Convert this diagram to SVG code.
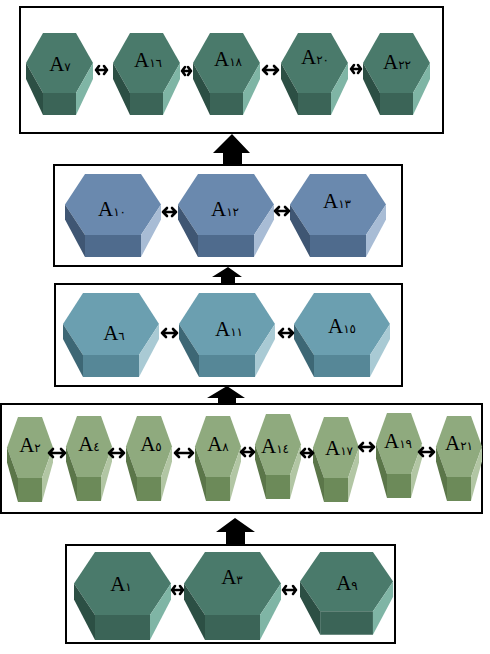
<svg xmlns="http://www.w3.org/2000/svg" xmlns:xlink="http://www.w3.org/1999/xlink" width="490" height="654" viewBox="0 0 490 654">
<style>
.box{fill:none;stroke:#000;stroke-width:2}
.lbl{font-family:"Liberation Serif","DejaVu Serif",serif;font-size:21px;fill:#000;text-anchor:middle}
.dg{font-family:"DejaVu Sans",sans-serif;font-size:12px}
.conn{fill:none;stroke:#000;stroke-width:2.6;stroke-linecap:round;stroke-linejoin:round}
.big{fill:#000}
</style>
<defs>
<g id="hexA">
<polygon points="17,0 50,0 67,30 50,60 17,60 0,30" fill="#4a7a6b"/>
<polygon points="0,30 17,60 17,82 0,46" fill="#2c4f44"/>
<polygon points="17,60 50,60 50,82 17,82" fill="#3b6457"/>
<polygon points="50,60 67,30 67,46 50,82" fill="#7fb5a5"/>
</g>
<g id="hexE">
<polygon points="21,0 76,0 97,31.5 76,63 21,63 0,31.5" fill="#4a7a6b"/>
<polygon points="0,31.5 21,63 21,88 0,47.5" fill="#2c4f44"/>
<polygon points="21,63 76,63 76,88 21,88" fill="#3b6457"/>
<polygon points="76,63 97,31.5 97,47.5 76,88" fill="#7fb5a5"/>
</g>
<g id="hexB">
<polygon points="20,0 76,0 96,30.5 76,61 20,61 0,30.5" fill="#6a89ae"/>
<polygon points="0,30.5 20,61 20,83 0,45.5" fill="#3f5673"/>
<polygon points="20,61 76,61 76,83 20,83" fill="#4f6b8d"/>
<polygon points="76,61 96,30.5 96,45.5 76,83" fill="#a8bcd5"/>
</g>
<g id="hexC">
<polygon points="20,0 76,0 96,31 76,62 20,62 0,31" fill="#6b9fb0"/>
<polygon points="0,31 20,62 20,84 0,46" fill="#3d6775"/>
<polygon points="20,62 76,62 76,84 20,84" fill="#568797"/>
<polygon points="76,62 96,31 96,46 76,84" fill="#a9cad4"/>
</g>
<g id="hexD">
<polygon points="11,0 35,0 46,30.5 35,61 11,61 0,30.5" fill="#8faa7e"/>
<polygon points="0,30.5 11,61 11,85 0,45.5" fill="#5b7649"/>
<polygon points="11,61 35,61 35,85 11,85" fill="#6c8a59"/>
<polygon points="35,61 46,30.5 46,45.5 35,85" fill="#b2c6a4"/>
</g>
</defs>
<rect width="490" height="654" fill="#fff"/>
<g id="boxes">
<rect class="box" x="20" y="7" width="423" height="126"/>
<rect class="box" x="54" y="165" width="348" height="101"/>
<rect class="box" x="55" y="284" width="347" height="102"/>
<rect class="box" x="1" y="404" width="481" height="109"/>
<rect class="box" x="66" y="545" width="329" height="98"/>
</g>
<g id="n-A7"><use xlink:href="#hexA" x="26" y="33"/><text class="lbl" x="60" y="71">A<tspan class="dg">٧</tspan></text></g>
<g id="n-A16"><use xlink:href="#hexA" x="113" y="33"/><text class="lbl" x="148" y="67">A<tspan class="dg">١٦</tspan></text></g>
<g id="n-A18"><use xlink:href="#hexA" x="193" y="33"/><text class="lbl" x="228" y="66">A<tspan class="dg">١٨</tspan></text></g>
<g id="n-A20"><use xlink:href="#hexA" x="281" y="33"/><text class="lbl" x="315" y="64">A<tspan class="dg">٢٠</tspan></text></g>
<g id="n-A22"><use xlink:href="#hexA" x="363" y="33"/><text class="lbl" x="397" y="69">A<tspan class="dg">٢٢</tspan></text></g>
<g id="n-A10"><use xlink:href="#hexB" x="65" y="174"/><text class="lbl" x="112" y="216">A<tspan class="dg">١٠</tspan></text></g>
<g id="n-A12"><use xlink:href="#hexB" x="178" y="174"/><text class="lbl" x="225" y="216">A<tspan class="dg">١٢</tspan></text></g>
<g id="n-A13"><use xlink:href="#hexB" x="290" y="174"/><text class="lbl" x="337" y="208">A<tspan class="dg">١٣</tspan></text></g>
<g id="n-A6"><use xlink:href="#hexC" x="63" y="293"/><text class="lbl" x="114" y="340">A<tspan class="dg">٦</tspan></text></g>
<g id="n-A11"><use xlink:href="#hexC" x="179" y="293"/><text class="lbl" x="229" y="336">A<tspan class="dg">١١</tspan></text></g>
<g id="n-A15"><use xlink:href="#hexC" x="294" y="293"/><text class="lbl" x="342" y="333">A<tspan class="dg">١٥</tspan></text></g>
<g id="n-A2"><use xlink:href="#hexD" x="7" y="417"/><text class="lbl" x="30" y="452">A<tspan class="dg">٢</tspan></text></g>
<g id="n-A4"><use xlink:href="#hexD" x="66" y="416"/><text class="lbl" x="89" y="451">A<tspan class="dg">٤</tspan></text></g>
<g id="n-A5"><use xlink:href="#hexD" x="126" y="416"/><text class="lbl" x="151" y="451">A<tspan class="dg">٥</tspan></text></g>
<g id="n-A8"><use xlink:href="#hexD" x="195" y="416"/><text class="lbl" x="218" y="451">A<tspan class="dg">٨</tspan></text></g>
<g id="n-A14"><use xlink:href="#hexD" x="255" y="414"/><text class="lbl" x="275" y="453">A<tspan class="dg">١٤</tspan></text></g>
<g id="n-A17"><use xlink:href="#hexD" x="313" y="417"/><text class="lbl" x="339" y="455">A<tspan class="dg">١٧</tspan></text></g>
<g id="n-A19"><use xlink:href="#hexD" x="376" y="413"/><text class="lbl" x="398" y="448">A<tspan class="dg">١٩</tspan></text></g>
<g id="n-A21"><use xlink:href="#hexD" x="436" y="416"/><text class="lbl" x="459" y="450">A<tspan class="dg">٢١</tspan></text></g>
<g id="n-A1"><use xlink:href="#hexE" x="74" y="552"/><text class="lbl" x="121" y="591">A<tspan class="dg">١</tspan></text></g>
<g id="n-A3"><use xlink:href="#hexE" x="184" y="552"/><text class="lbl" x="232" y="584">A<tspan class="dg">٣</tspan></text></g>
<g id="n-A9"><use xlink:href="#hexE" x="300" y="552" transform="translate(300 552) scale(0.96 0.94) translate(-300 -552)"/><text class="lbl" x="347" y="590">A<tspan class="dg">٩</tspan></text></g>
<g id="connectors">
<path class="conn" d="M96,70 H107 M99,66 L96,70 L99,74 M104,66 L107,70 L104,74"/>
<path class="conn" d="M182,71 H191 M185,67 L182,71 L185,75 M188,67 L191,71 L188,75"/>
<path class="conn" d="M263,70 H278 M267,66 L263,70 L267,74 M274,66 L278,70 L274,74"/>
<path class="conn" d="M351,69 H361 M354,65 L351,69 L354,73 M358,65 L361,69 L358,73"/>
<path class="conn" d="M163,212 H176 M167,208 L163,212 L167,216 M172,208 L176,212 L172,216"/>
<path class="conn" d="M275,211 H289 M279,207 L275,211 L279,215 M285,207 L289,211 L285,215"/>
<path class="conn" d="M162,333 H177 M166,329 L162,333 L166,337 M173,329 L177,333 L173,337"/>
<path class="conn" d="M279,333 H293 M283,329 L279,333 L283,337 M289,329 L293,333 L289,337"/>
<path class="conn" d="M49,453 H65 M53,449 L49,453 L53,457 M61,449 L65,453 L61,457"/>
<path class="conn" d="M109,453 H124 M113,449 L109,453 L113,457 M120,449 L124,453 L120,457"/>
<path class="conn" d="M175,453 H193 M179,449 L175,453 L179,457 M189,449 L193,453 L189,457"/>
<path class="conn" d="M241,452 H254 M245,448 L241,452 L245,456 M250,448 L254,452 L250,456"/>
<path class="conn" d="M301,453 H313 M305,449 L301,453 L305,457 M309,449 L313,453 L309,457"/>
<path class="conn" d="M359,447 H374 M363,443 L359,447 L363,451 M370,443 L374,447 L370,451"/>
<path class="conn" d="M419,452 H434 M423,448 L419,452 L423,456 M430,448 L434,452 L430,456"/>
<path class="conn" d="M172,590 H183 M175,586 L172,590 L175,594 M180,586 L183,590 L180,594"/>
<path class="conn" d="M283,590 H296 M286,586 L283,590 L286,594 M293,586 L296,590 L293,594"/>
<polygon class="big" points="232,134 250,153 242,153 242,165 223,165 223,153 213,153"/>
<polygon class="big" points="228,267 242,277 235,277 235,284 221,284 221,277 212,277"/>
<polygon class="big" points="227,386 245,398 236,398 236,404 218,404 218,398 207,398"/>
<polygon class="big" points="235,518 255,532 245,532 245,545 226,545 226,532 216,532"/>
</g>
</svg>
